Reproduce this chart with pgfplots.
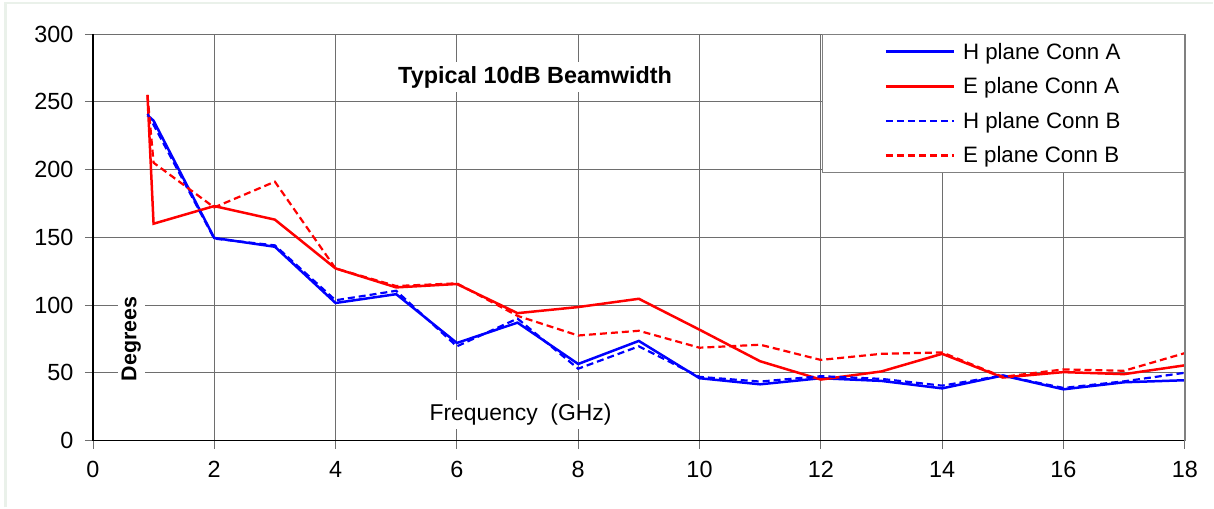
\documentclass[border=0pt]{standalone}
\usepackage{pgfplots}
\pgfplotsset{compat=1.18}
\usepackage{fontspec}
\setmainfont{Liberation Sans}
\definecolor{gridc}{RGB}{110,110,110}
\definecolor{framec}{RGB}{234,241,234}
\definecolor{myblue}{RGB}{0,0,255}
\definecolor{myred}{RGB}{255,0,0}
\begin{document}
\begin{tikzpicture}
\begin{axis}[
  at={(0,0)}, anchor=south west,
  scale only axis,
  width=1093bp, height=407bp,
  xmin=0, xmax=18, ymin=0, ymax=300,
  xtick={0,2,...,18}, ytick={0,50,...,300},
  xtick pos=bottom, ytick pos=left,
  tick align=outside,
  major tick length=8bp,
  major tick style={gridc, line width=0.8bp},
  grid=major,
  major grid style={gridc, line width=0.8bp},
  axis line style={draw=none},
  /pgf/number format/assume math mode=true,
  ticklabel style={font=\fontsize{23.5}{27}\selectfont},
  xticklabel style={yshift=-9bp},
  yticklabel style={xshift=-8bp},
  legend style={at={(rel axis cs:1,1)}, anchor=north east, draw=gray, line width=0.8bp,
    font=\fontsize{22.4}{26}\selectfont, inner xsep=62bp, inner ysep=6.5bp, row sep=13bp,
    /tikz/every odd column/.style={column sep=6bp}},
  legend cell align=left,
  legend image code/.code={\draw[#1] (0bp,0bp) -- (68bp,0bp);},
  clip=false,
]
\addplot[myblue, line width=2.5bp] coordinates {(0.9,240)(1,236)(2,149.5)(3,143)(4,101.5)(5,108)(6,72)(7,87)(8,56.5)(9,73.5)(10,46)(11,41.5)(12,46)(13,44)(14,38.5)(15,48)(16,37.8)(17,43)(18,44.5)};
\addlegendentry{H plane Conn A}
\addplot[myred, line width=2.5bp] coordinates {(0.9,255)(1,160)(2,173)(3,163)(4,127)(5,113)(6,115.5)(7,94)(8,98.5)(9,104.6)(10,81.8)(11,58.5)(12,45)(13,51)(14,64)(15,46.5)(16,50.5)(17,49)(18,55.5)};
\addlegendentry{E plane Conn A}
\addplot[myblue, line width=2.2bp, dash pattern=on 7bp off 4bp] coordinates {(0.9,241)(1,233)(2,149)(3,144)(4,103.5)(5,110.5)(6,69.5)(7,90)(8,53)(9,69.5)(10,47)(11,43.5)(12,47.5)(13,45.5)(14,40.5)(15,48)(16,38.8)(17,43.7)(18,50)};
\addlegendentry{H plane Conn B}
\addplot[myred, line width=2.2bp, dash pattern=on 7bp off 4bp] coordinates {(0.9,255)(1,205)(2,172)(3,191)(4,127)(5,114)(6,116)(7,92)(8,77.5)(9,81)(10,68.5)(11,70.7)(12,59.5)(13,64)(14,65)(15,47)(16,52.5)(17,51.5)(18,64.5)};
\addlegendentry{E plane Conn B}
\draw[black, line width=1.5bp] (rel axis cs:0,1) -- (rel axis cs:0,0) -- (rel axis cs:1,0);
\draw[gray, line width=2bp] (rel axis cs:1,0) -- (rel axis cs:1,1);
\node[fill=white, anchor=base, inner sep=4bp, font=\bfseries\fontsize{23.5}{26}\selectfont] at (axis cs:7.29,263.6) {Typical 10dB Beamwidth};
\node[fill=white, anchor=base, inner sep=4bp, font=\fontsize{23}{26}\selectfont] at (axis cs:7.05,15) {Frequency\ \ (GHz)};
\node[fill=white, rotate=90, inner sep=4bp, font=\bfseries\fontsize{21.5}{24}\selectfont] at (axis cs:0.634,75) {Degrees};
\end{axis}
\draw[framec, line width=2.5bp] (-87.5bp,-67bp) -- (-87.5bp,438bp) -- (1121bp,438bp);
\path[use as bounding box] (-93bp,-67bp) rectangle (1121bp,441bp);
\end{tikzpicture}
\end{document}
